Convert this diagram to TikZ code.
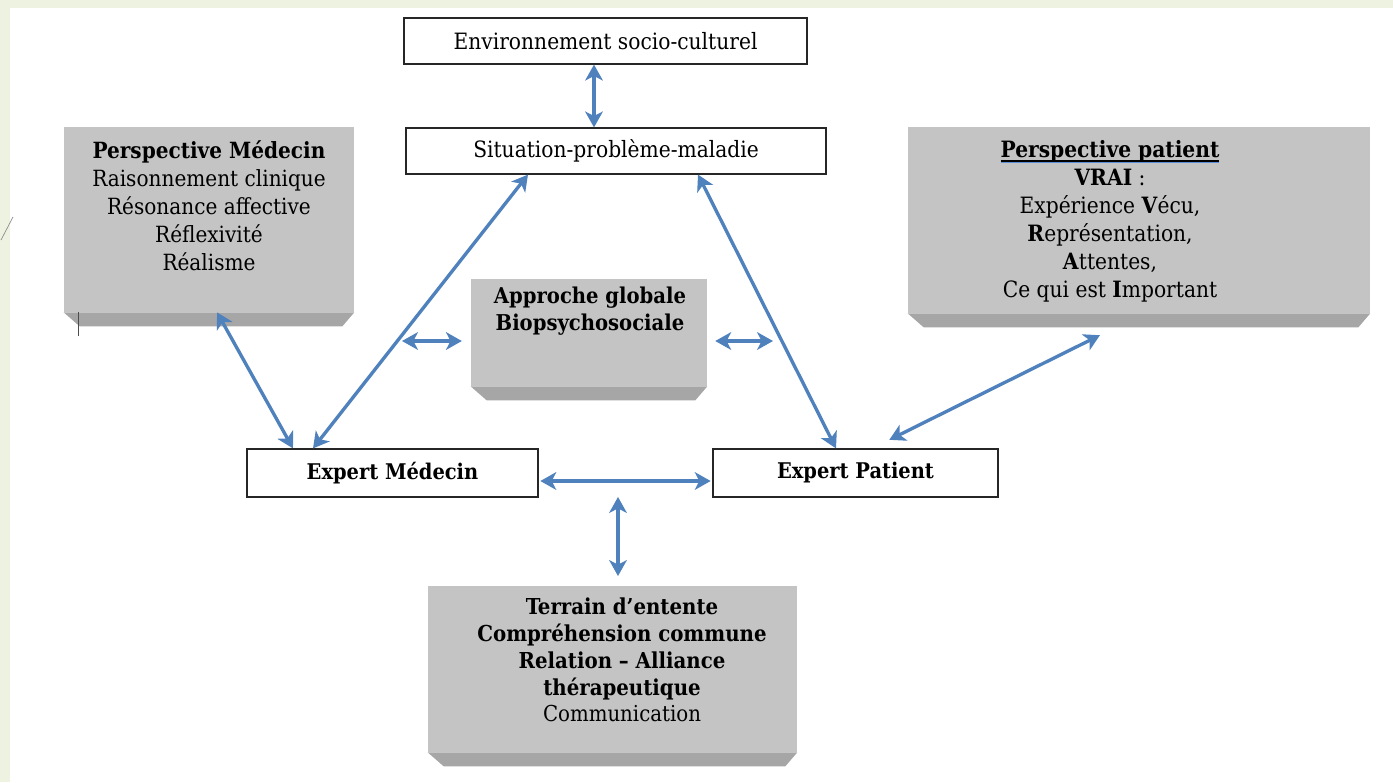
\documentclass[tikz,border=0pt]{standalone}
\usepackage{fontspec}
\setmainfont{DejaVu Serif Condensed}
\usetikzlibrary{arrows.meta}

\definecolor{linkblue}{HTML}{4F81BD}
\definecolor{facegrey}{HTML}{C4C4C4}
\definecolor{slabgrey}{HTML}{A6A6A6}
\definecolor{slidecream}{HTML}{EEF2E0}
\definecolor{spellblue}{HTML}{5B8FD6}

% black underline with the blue spell-check line under it
\newcommand{\spellul}[1]{\setbox0=\hbox{#1}\rlap{\vrule height -1.6pt depth 2.4pt width \wd0}\rlap{\color{spellblue}\vrule height -2.6pt depth 3.4pt width \wd0}\box0}
% darker bottom slab under a grey box
\newcommand{\slab}[1]{\fill[slabgrey] (#1.south west) -- (#1.south east) -- ([shift={(-12,14)}]#1.south east) -- ([shift={(16,14)}]#1.south west) -- cycle;}

\tikzset{
  whitebox/.style={draw=black!85, line width=0.7pt, fill=white, inner sep=0pt, font=\fontsize{12.8}{15}\selectfont},
  greyface/.style={fill=facegrey, inner sep=0pt},
  boxtext/.style={align=center, inner sep=0pt, font=\fontsize{12.7}{15.9}\selectfont},
  link/.style={linkblue, line width=1.9pt, {Stealth[length=9pt,width=10pt,inset=2.5pt]}-{Stealth[length=9pt,width=10pt,inset=2.5pt]}},
}

\begin{document}
\begin{tikzpicture}[x=0.02cm, y=-0.02cm]
    % slide background
    \useasboundingbox (0,0) rectangle (1393,782);
    \fill[slidecream] (0,0) rectangle (1393,782);
    \fill[white] (10,8) rectangle (1393,782);
    \draw[black!45, line width=0.4pt] (1,240) -- (13,217);

    % top of the triangle
    \node[whitebox, minimum width=8.06cm, minimum height=0.92cm] (env) at (605.5,41) {Environnement socio-culturel};
    \node[whitebox, minimum width=8.4cm, minimum height=0.92cm] (sit) at (616,151) {Situation-problème-maladie};

    % Perspective Medecin
    \node[greyface, minimum width=5.8cm, minimum height=3.7cm] (persMed) at (209,219.5) {};
    \slab{persMed}
    \node[boxtext] (persMedTxt) at (209,206) {\textbf{Perspective Médecin}\\Raisonnement clinique\\Résonance affective\\Réflexivité\\Réalisme};
    \draw[black!70, line width=0.5pt] (78,312) -- (78,336);

    % Perspective patient
    \node[greyface, minimum width=9.24cm, minimum height=3.72cm] (persPat) at (1139,220) {};
    \slab{persPat}
    \node[boxtext, font=\fontsize{12.8}{15.9}\selectfont] (persPatTxt) at (1110,221) {\spellul{\textbf{Perspective patient}}\\\textbf{VRAI} :\\Expérience \textbf{V}écu,\\\textbf{R}eprésentation,\\\textbf{A}ttentes,\\Ce qui est \textbf{I}mportant};

    % Approche globale
    \node[greyface, minimum width=4.72cm, minimum height=2.14cm] (approche) at (589,332.5) {};
    \slab{approche}
    \node[boxtext, font=\fontsize{12.4}{15.3}\selectfont\bfseries] (approcheTxt) at (590,311) {Approche globale\\Biopsychosociale};

    % the two experts
    \node[whitebox, minimum width=5.82cm, minimum height=0.96cm, font=\fontsize{12.3}{15}\selectfont\bfseries] (expMed) at (392.5,473) {Expert Médecin};
    \node[whitebox, minimum width=5.7cm, minimum height=0.96cm, font=\fontsize{12.3}{15}\selectfont\bfseries] (expPat) at (855.5,473) {Expert Patient};

    % Terrain d'entente
    \node[greyface, minimum width=7.38cm, minimum height=3.32cm] (terrain) at (612.5,669) {};
    \slab{terrain}
    \node[boxtext, font=\fontsize{12.5}{15.3}\selectfont] (terrainTxt) at (622,660) {\textbf{Terrain d’entente}\\\textbf{Compréhension commune}\\\textbf{Relation – Alliance}\\\textbf{thérapeutique}\\Communication};

    % arrows
    \coordinate (triLeft) at (402,341);
    \coordinate (triRight) at (773,341);
    \coordinate (meet) at (618,497);
    \draw[link] (env.south -| 594,0) -- (sit.north -| 594,0);
    \draw[link] (persMed.south -| 217,0) -- (expMed.north -| 293,0);
    \draw[link] (expMed.north -| 313,0) -- (sit.south -| 528,0);
    \draw[link] (sit.south -| 698,0) -- (expPat.north -| 836,0);
    \draw[link, shorten <=11pt, shorten >=28pt] (expPat.north -| 872,0) -- (persPat.south -| 1144,0);
    \draw[link, shorten >=5pt] (triLeft) -- (approche.west |- triLeft);
    \draw[link, shorten <=4.5pt] (approche.east |- triRight) -- (triRight);
    \draw[link, shorten <=1pt, shorten >=1pt] (expMed.east |- 0,481) -- (expPat.west |- 0,481);
    \draw[link, shorten >=5.5pt] (meet) -- (terrain.north -| meet);
\end{tikzpicture}
\end{document}
